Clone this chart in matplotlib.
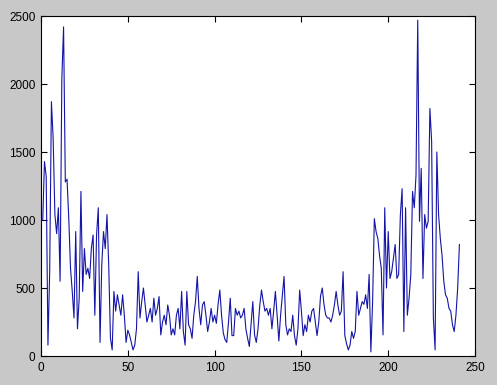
import matplotlib
matplotlib.use('Agg')
import matplotlib.pyplot as plt
import numpy as np

# values, one per sample (x = 1..241)
seg_a = [1000, 1430, 1320, 80, 620, 1870, 1600, 1040, 900, 1090, 550, 2040, 2420, 1280, 1300,
         1010, 645, 475, 280, 915, 200, 425, 1210, 475, 790, 600, 645, 570, 790, 890, 300, 890, 1090]
seg_b = [100, 670, 915, 790, 1040, 670, 130, 45, 475, 330, 450, 375, 300, 450, 300, 100,
         190, 155, 100, 45, 80, 200, 620, 280, 400, 500, 375, 250, 300, 350, 250, 425]
seg_c = [300, 350, 437, 155, 250, 300, 230, 375, 300, 155, 200, 155, 300, 350, 200, 475,
         180, 80, 475, 230, 200, 130, 300, 400, 585, 350, 230, 375, 400, 300, 180, 250, 350]
seg_d = [250, 300, 240, 380, 485, 300, 170, 120, 100, 250, 425, 150, 150, 350, 300, 330,
         280, 300, 350, 200, 130, 70, 230, 400, 155, 100, 200, 370, 485, 400, 330, 350]
seg_e = [300, 350, 200, 330, 475, 300, 110, 300, 440, 585, 230, 155, 200, 180, 300, 150,
         80, 200, 485, 330, 150, 230, 180, 300, 250, 330, 350, 250, 150, 250, 440, 500, 380]
seg_f = [300, 280, 280, 250, 300, 375, 475, 375, 300, 330, 620, 150, 90, 45, 80, 180,
         130, 180, 475, 300, 350, 400, 380, 450, 350, 600, 30, 400, 1010, 915, 865, 740, 645]
seg_g = [155, 1090, 500, 915, 570, 620, 720, 820, 570, 600, 1040, 1230, 180, 1090, 300,
         425, 600, 1210, 1090, 1330, 2470, 990, 1380, 570, 1040, 940, 990, 1820, 1580, 280,
         45, 1500, 1040, 865, 740, 550, 450, 425, 350, 330, 230, 180, 300, 500, 820]

values = seg_a + seg_b + seg_c + seg_d + seg_e + seg_f + seg_g
x = np.arange(1, len(values) + 1)

x_ticks = [0, 50, 100, 150, 200, 250]
y_ticks = [0, 500, 1000, 1500, 2000, 2500]

plt.rcParams['font.family'] = ['Liberation Sans', 'DejaVu Sans']
plt.rcParams['font.size'] = 8.5

figure = plt.figure(figsize=(4.97, 3.85), dpi=100, facecolor='#c8c8c8')
axis = figure.add_axes([0.0825, 0.0753, 0.8733, 0.8831])
axis.set_facecolor('white')
axis.plot(x, values, color='#1414a8', linewidth=0.8)

axis.set_xlim(0, 250)
axis.set_ylim(0, 2500)
axis.set_xticks(x_ticks)
axis.set_yticks(y_ticks)
axis.tick_params(direction='in', length=4, width=0.8, top=True, right=True,
                 colors='black', labelsize=8.5, pad=4)
for spine in axis.spines.values():
    spine.set_linewidth(0.8)
    spine.set_color('black')

figure.savefig('out.png', dpi=100, facecolor=figure.get_facecolor())
plt.close(figure)
